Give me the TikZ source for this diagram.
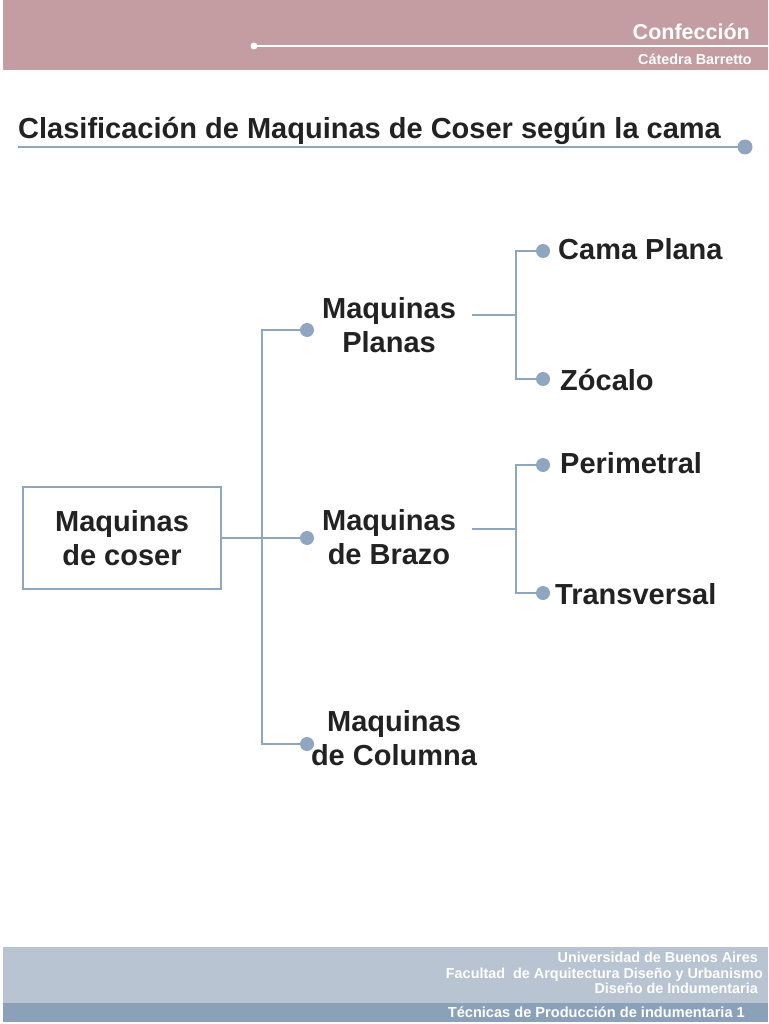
\documentclass[tikz,border=0pt]{standalone}
\usepackage{fontspec}
\setmainfont{Liberation Sans}
\definecolor{rosa}{HTML}{C49DA2}
\definecolor{azul}{HTML}{8FA5C0}
\definecolor{azulclaro}{HTML}{B8C4D2}
\definecolor{azuloscuro}{HTML}{8BA1BA}
\definecolor{tinta}{HTML}{222222}
\tikzset{
  conn/.style={draw=azul, line width=2.5pt},
  dotnode/.style={circle, fill=azul, inner sep=0pt, minimum size=14pt},
  lbl/.style={font=\bfseries\fontsize{29}{34}\selectfont, text=tinta, align=center, inner sep=0pt},
  leaf/.style={font=\bfseries\fontsize{29}{34}\selectfont, text=tinta, anchor=west, inner sep=0pt},
  hdr/.style={font=\bfseries, text=white, anchor=east, inner sep=0pt, align=right},
}
\begin{document}
\begin{tikzpicture}[x=1pt,y=-1pt]
\useasboundingbox (0,0) rectangle (768,1024);
% header
\fill[rosa] (3,0) rectangle (768,70);
\draw[white, line width=2pt] (254,46) -- (768,46);
\fill[white] (254,46) circle (3.5);
\node[hdr, font=\bfseries\fontsize{21.5}{24}\selectfont] (conf) at (750,32) {Confección};
\node[hdr, font=\bfseries\fontsize{14.4}{16}\selectfont] (cat) at (752,59) {Cátedra Barretto};
% title
\node[anchor=base west, inner sep=0pt, text=tinta, font=\bfseries\fontsize{29}{32}\selectfont] (title) at (18,139) {Clasificación de Maquinas de Coser según la cama};
\node[dotnode, minimum size=15pt] (tdot) at (745,147) {};
\draw[conn] (18,147) -- (tdot.center);
% root
\node[draw=azul, line width=2.5pt, minimum width=198pt, minimum height=102pt, lbl] (root) at (122,538) {Maquinas\\de coser};
% level 1 dots
\node[dotnode] (d1) at (307,330) {};
\node[dotnode] (d2) at (307,538) {};
\node[dotnode] (d3) at (307,744) {};
\draw[conn] (root.east) -- (d2.center);
\draw[conn] (d1.center) -| (262,744) -- (d3.center);
% level 1 labels
\node[lbl] (planas) at (389,325) {Maquinas\\Planas};
\node[lbl] (brazo) at (389,537) {Maquinas\\de Brazo};
\node[lbl] (columna) at (394,738) {Maquinas\\de Columna};
% planas children
\node[dotnode] (e1) at (543,251) {};
\node[dotnode] (e2) at (543,379) {};
\coordinate (p0) at (472,315);
\draw[conn] (p0) -- (516,315);
\draw[conn] (e1.center) -| (516,379) -- (e2.center);
\node[leaf] (cama) at (558,249) {Cama Plana};
\node[leaf] (zocalo) at (560,380) {Zócalo};
% brazo children
\node[dotnode] (f1) at (543,465) {};
\node[dotnode] (f2) at (543,593) {};
\coordinate (b0) at (472,529);
\draw[conn] (b0) -- (516,529);
\draw[conn] (f1.center) -| (516,593) -- (f2.center);
\node[leaf] (peri) at (560,463) {Perimetral};
\node[leaf] (trans) at (555,594) {Transversal};
% footer
\fill[azulclaro] (3,947) rectangle (768,1003);
\fill[azuloscuro] (3,1003) rectangle (768,1022);
\node[hdr, font=\bfseries\fontsize{14.4}{15.5}\selectfont] (uba) at (763,973) {Universidad de Buenos Aires\hspace*{5pt}\\Facultad\ \ de Arquitectura Diseño y Urbanismo\\Diseño de Indumentaria\hspace*{5pt}};
\node[hdr, font=\bfseries\fontsize{14.6}{15}\selectfont] (tec) at (745,1012) {Técnicas de Producción de indumentaria 1};
\end{tikzpicture}
\end{document}
